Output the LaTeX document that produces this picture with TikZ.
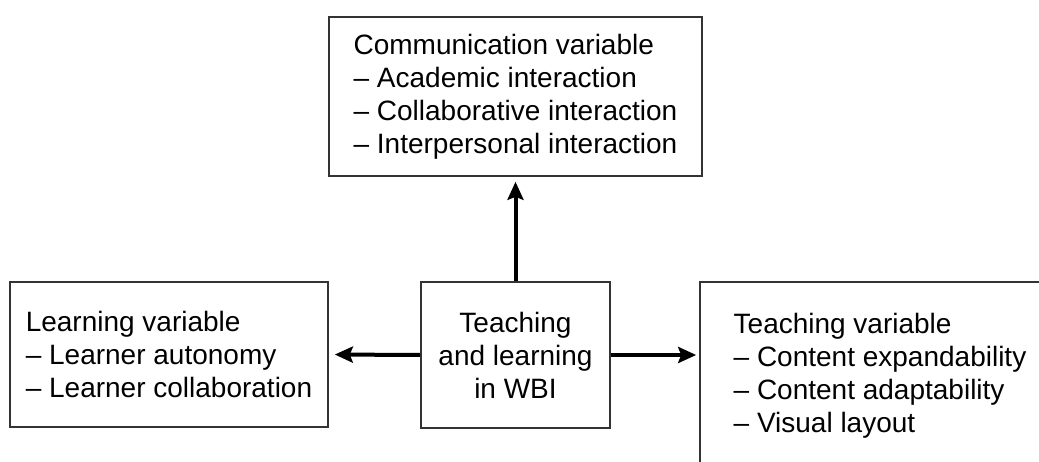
\documentclass[tikz,border=0pt]{standalone}
\usepackage{fontspec}
\setmainfont{Liberation Sans}
\usetikzlibrary{arrows.meta}

\begin{document}
\begin{tikzpicture}[x=1pt,y=1pt,yscale=-1,xscale=1,
	varbox/.style={draw=black!80, line width=1.6pt, inner sep=0pt, font=\fontsize{28}{33}\selectfont},
	flow/.style={line width=4pt, -{Stealth[length=18pt,width=16pt,inset=3pt]}}]
			\clip (0,0) rectangle (1039,462);
			\node [varbox, align=left, minimum width=373, minimum height=159] (comm) at (515.5,96.5) {Communication variable\\-- Academic interaction\\-- Collaborative interaction\\-- Interpersonal interaction};
			\node [varbox, align=center, minimum width=189, minimum height=146] (core) at (515.5,355) {Teaching\\and learning\\in WBI};
			\node [varbox, align=left, minimum width=318, minimum height=145] (learn) at (169,354.5) {Learning variable\\-- Learner autonomy\\-- Learner collaboration};
			\node [varbox, align=left, minimum width=360, minimum height=188] (teach) at (880,376) {Teaching variable\\-- Content expandability\\-- Content adaptability\\-- Visual layout};
			\draw [flow, shorten >=5pt] (core.north) -- (comm.south);
			\draw [flow, shorten >=6pt] (core.west) -- (learn.east);
			\draw [flow, shorten >=3pt] (core.east) -- (core.east -| teach.west);
	\end{tikzpicture}
\end{document}
